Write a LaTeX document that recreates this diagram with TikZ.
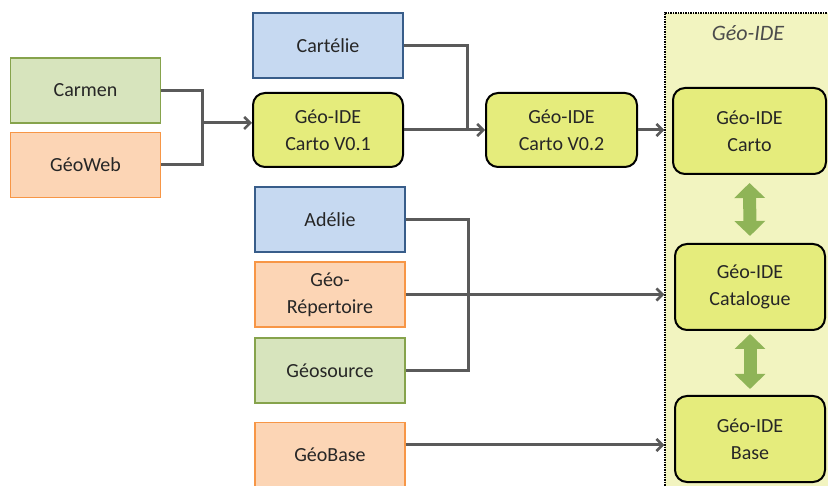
\documentclass[tikz,border=0pt]{standalone}
\usepackage{fontspec}
\setmainfont{Carlito}
\usetikzlibrary{arrows.meta}

\definecolor{greenfill}{HTML}{D7E4BD}
\definecolor{greenline}{HTML}{86A34C}
\definecolor{orangefill}{HTML}{FCD5B5}
\definecolor{orangeline}{HTML}{F79646}
\definecolor{bluefill}{HTML}{C6D9F1}
\definecolor{blueline}{HTML}{385D8A}
\definecolor{idefill}{HTML}{E5EC7C}
\definecolor{framefill}{HTML}{F2F4C0}
\definecolor{linegray}{HTML}{5A5A5A}
\definecolor{fatgreen}{HTML}{8FB457}

\begin{document}
\begin{tikzpicture}[x=1pt,y=-1pt]
				\tikzstyle{box}=[rectangle, minimum width=150pt, minimum height=65pt, inner sep=0pt, align=center, line width=1.5pt, text=black!85, font=\fontsize{20}{27}\selectfont]
				\tikzstyle{gr}=[box, fill=greenfill, draw=greenline]
				\tikzstyle{or}=[box, fill=orangefill, draw=orangeline]
				\tikzstyle{bl}=[box, fill=bluefill, draw=blueline]
				\tikzstyle{ide}=[box, rounded corners=12pt, fill=idefill, draw=black, line width=2pt, minimum height=74pt]
				\tikzstyle{link}=[draw=linegray, line width=3pt]
				\tikzstyle{arr}=[link, -{Straight Barb[length=6pt,width=12pt,line width=2.5pt]}]
				\tikzstyle{fat}=[draw=fatgreen, line width=13pt, {Triangle[length=15pt,width=30pt]}-{Triangle[length=15pt,width=30pt]}]

				\useasboundingbox (0,0) rectangle (828,486);

				% Geo-IDE frame
				\node[rectangle, fill=framefill, draw=black, densely dotted, line width=1.5pt, minimum width=182pt, minimum height=480pt, inner sep=0pt] (geoide) at (756,253) {};
				\node[font=\fontsize{22}{26}\selectfont\itshape, text=black!70] (geoidename) at (748,33) {Géo-IDE};

				\node[gr] (carmen) at (85.5,90.5) {Carmen};
				\node[or] (geoweb) at (85.5,165) {GéoWeb};
				\node[bl] (cartelie) at (328,45.5) {Cartélie};
				\node[ide] (v01) at (328,130) {Géo-IDE\\Carto V0.1};
				\node[ide, minimum width=151pt] (v02) at (561.5,130) {Géo-IDE\\Carto V0.2};
				\node[bl] (adelie) at (330,219.5) {Adélie};
				\node[or] (rep) at (330,294.5) {Géo-\\Répertoire};
				\node[gr] (geosource) at (330,370.5) {Géosource};
				\node[or] (geobase) at (330,455) {GéoBase};

				\node[ide, minimum width=153pt, minimum height=86pt] (carto) at (749.5,131) {Géo-IDE\\Carto};
				\node[ide, minimum height=86pt] (catalogue) at (750,287) {Géo-IDE\\Catalogue};
				\node[ide, minimum height=86pt] (base) at (750,439) {Géo-IDE\\Base};

				\coordinate (j1) at (202,123);
				\coordinate (j2) at (467,130);
				\coordinate (j3) at (468,294);

				\draw[link] (carmen.east) -| (j1) |- (geoweb.east);
				\draw[arr] (j1) -- (j1 -| v01.west);
				\draw[link] (cartelie.east) -| (j2);
				\draw[arr] (v01.east) -- (v02.west);
				\draw[arr] (v02.east) -- (v02.east -| geoide.west);
				\draw[link] (adelie.east) -| (j3) |- (geosource.east);
				\draw[arr] (rep.east) -- (rep.east -| geoide.west);
				\draw[arr] ([yshift=10pt]geobase.east) -- ([yshift=10pt]geobase.east -| geoide.west);

				\draw[fat] ([yshift=-8pt]carto.south) -- ([yshift=7pt]catalogue.north);
				\draw[fat] ([yshift=-3pt]catalogue.south) -- ([yshift=6pt]base.north);
			\end{tikzpicture}
\end{document}
